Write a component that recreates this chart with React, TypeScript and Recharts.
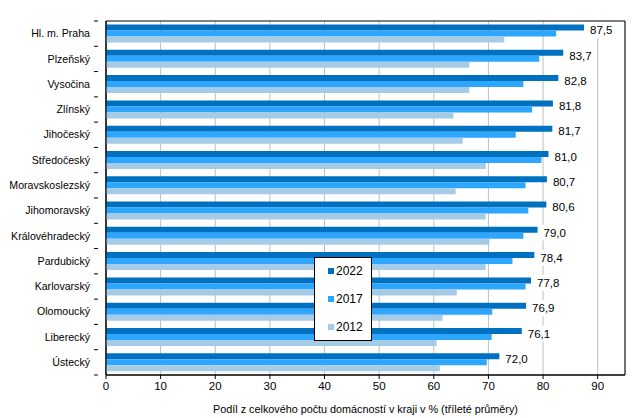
import { BarChart, Bar, XAxis, YAxis, CartesianGrid, Legend, LabelList, ReferenceArea } from 'recharts';

const regions = [
  'Hl. m. Praha', 'Plzeňský', 'Vysočina', 'Zlínský', 'Jihočeský', 'Středočeský', 'Moravskoslezský',
  'Jihomoravský', 'Královéhradecký', 'Pardubický', 'Karlovarský', 'Olomoucký', 'Liberecký', 'Ústecký',
];
const v2022 = [87.5, 83.7, 82.8, 81.8, 81.7, 81.0, 80.7, 80.6, 79.0, 78.4, 77.8, 76.9, 76.1, 72.0];
const v2017 = [82.4, 79.3, 76.4, 78.0, 75.0, 79.7, 76.8, 77.3, 76.4, 74.4, 76.8, 70.7, 70.6, 69.7];
const v2012 = [72.9, 66.5, 66.5, 63.6, 65.3, 69.5, 64.0, 69.5, 70.2, 69.5, 64.2, 61.6, 60.5, 61.1];
const years = ['2022', '2017', '2012'];
const xTicks = [0, 10, 20, 30, 40, 50, 60, 70, 80, 90];

const data = regions.map((name, i) => ({ name, y2022: v2022[i], y2017: v2017[i], y2012: v2012[i] }));

const FONT = '"Liberation Sans", Arial, sans-serif';

// value label with white box behind it (hides the gridline like in the original)
const ValueLabel = (props: any) => {
  const { x, y, width, height, value } = props;
  const tx = x + width + 6;
  const cy = y + height * 0.95;
  const txt = value.toFixed(1).replace('.', ',');
  return (
    <g>
      <rect x={tx - 3} y={cy - 8} width={30} height={16} fill="#fff" />
      <text x={tx} y={cy} dy="0.35em" fontSize={11.5} fill="#000" fontFamily={FONT}>{txt}</text>
    </g>
  );
};

const RegionTick = (props: any) => {
  const { x, y, payload, index } = props;
  const half = payload && payload.offset ? payload.offset : 12.6;
  return (
    <g>
      <text x={x - 8} y={y} dy="0.35em" textAnchor="end" fontSize={10.6} fill="#000" fontFamily={FONT}>
        {payload.value}
      </text>
      <line x1={x - 4} x2={x} y1={y - half} y2={y - half} stroke="#000" />
      {index === regions.length - 1 && <line x1={x - 4} x2={x} y1={y + half} y2={y + half} stroke="#000" />}
    </g>
  );
};

const LegendBox = (props: any) => {
  const items = [...(props.payload || [])].sort((a: any, b: any) => years.indexOf(a.value) - years.indexOf(b.value));
  return (
    <div style={{ width: 58, height: 84, border: '1px solid #000', background: '#fff', boxSizing: 'border-box', position: 'relative' }}>
      {items.map((it: any, i: number) => (
        <div key={it.value} style={{ position: 'absolute', left: 13, top: 6 + i * 28, display: 'flex', alignItems: 'center', fontFamily: FONT, fontSize: 12, lineHeight: '14px', color: '#000' }}>
          <span style={{ width: 6, height: 6, background: it.color, display: 'inline-block', marginRight: 2 }} />
          {it.value}
        </div>
      ))}
    </div>
  );
};

export default function App() {
  return (
    <div style={{ position: 'absolute', left: 0, top: 0, background: '#fff' }}>
      <BarChart
        width={643}
        height={418}
        data={data}
        layout="vertical"
        margin={{ top: 21, right: 18, left: 0, bottom: 0 }}
        barCategoryGap="14%"
        barGap={0}
      >
        <CartesianGrid horizontal={false} stroke="#BFBFBF" />
        <XAxis
          type="number"
          domain={[0, 95]}
          ticks={xTicks}
          height={43}
          tickSize={4}
          tickMargin={3}
          stroke="#000"
          tick={{ fontSize: 11.5, fill: '#000', fontFamily: FONT }}
          label={{ value: 'Podíl  z celkového počtu domácností v kraji v % (tříleté průměry)', position: 'insideBottom', offset: 5, fontSize: 10.8, fill: '#000', fontFamily: FONT }}
        />
        <YAxis type="category" dataKey="name" width={106} tickLine={false} stroke="#000" tick={<RegionTick />} interval={0} />
        <ReferenceArea x1={0} x2={95} fill="none" stroke="#000" strokeWidth={1} fillOpacity={0} />
        <Legend
          layout="vertical"
          align="center"
          verticalAlign="middle"
          content={<LegendBox />}
          wrapperStyle={{ left: 314, top: 257, width: 58, height: 84 }}
        />
        <Bar dataKey="y2022" name="2022" fill="#0070C0" isAnimationActive={false}>
          <LabelList dataKey="y2022" content={<ValueLabel />} />
        </Bar>
        <Bar dataKey="y2017" name="2017" fill="#2CA6FF" isAnimationActive={false} />
        <Bar dataKey="y2012" name="2012" fill="#A6CBE6" isAnimationActive={false} />
      </BarChart>
    </div>
  );
}
